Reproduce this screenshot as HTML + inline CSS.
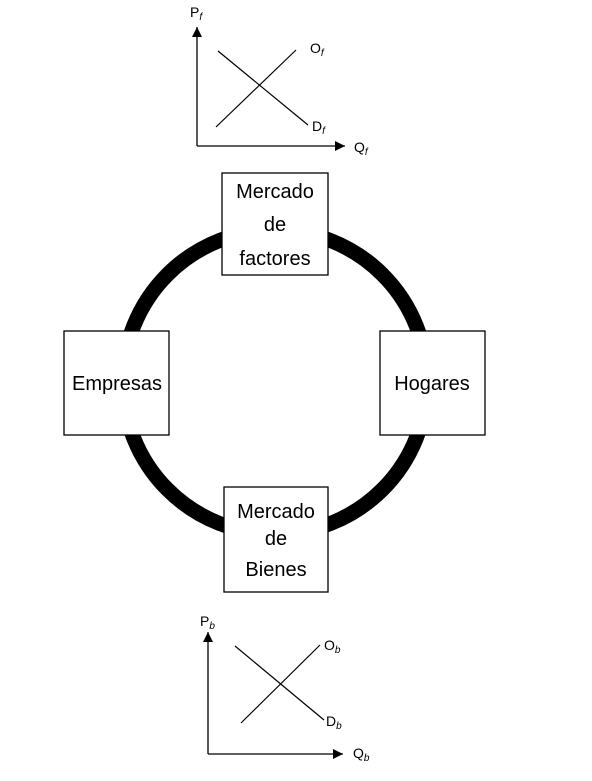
<!DOCTYPE html>
<html><head><meta charset="utf-8"><style>
body{margin:0;background:#fff;width:592px;height:781px;overflow:hidden}
svg{display:block}
text{font-family:"Liberation Sans",sans-serif;fill:#000}
</style></head><body>
<svg width="592" height="781" viewBox="0 0 592 781">
<defs><marker id="a" markerUnits="userSpaceOnUse" markerWidth="10" markerHeight="10" refX="10" refY="5" orient="auto"><path d="M0,0 L10,5 L0,10 z" fill="#000"/></marker></defs>
<!-- top chart -->
<line x1="197" y1="146" x2="197" y2="27" stroke="#000" stroke-width="1.3" marker-end="url(#a)"/>
<line x1="197" y1="146" x2="345" y2="146" stroke="#000" stroke-width="1.3" marker-end="url(#a)"/>
<line x1="216" y1="127" x2="296" y2="50" stroke="#000" stroke-width="1.2"/>
<line x1="218" y1="51" x2="308" y2="125" stroke="#000" stroke-width="1.2"/>
<text x="190" y="17" font-size="14">P<tspan font-size="10" font-style="italic" dy="3">f</tspan></text>
<text x="310" y="53" font-size="14">O<tspan font-size="10" font-style="italic" dy="3">f</tspan></text>
<text x="312" y="131" font-size="14">D<tspan font-size="10" font-style="italic" dy="3">f</tspan></text>
<text x="354" y="152" font-size="14">Q<tspan font-size="10" font-style="italic" dy="3">f</tspan></text>
<!-- circle -->
<circle cx="275" cy="382" r="152" fill="none" stroke="#000" stroke-width="15"/>
<g fill="#fff" stroke="#000" stroke-width="1.3">
<rect x="222" y="173" width="106" height="102"/>
<rect x="64" y="331" width="105" height="104"/>
<rect x="380" y="331" width="105" height="104"/>
<rect x="224" y="487" width="104" height="105"/>
</g>
<g font-size="20" text-anchor="middle">
<text x="275" y="198">Mercado</text>
<text x="275" y="231">de</text>
<text x="275" y="265">factores</text>
<text x="117" y="390">Empresas</text>
<text x="432" y="390">Hogares</text>
<text x="276" y="518">Mercado</text>
<text x="276" y="545">de</text>
<text x="276" y="576">Bienes</text>
</g>
<!-- bottom chart -->
<line x1="208" y1="754" x2="208" y2="632" stroke="#000" stroke-width="1.3" marker-end="url(#a)"/>
<line x1="208" y1="754" x2="343" y2="754" stroke="#000" stroke-width="1.3" marker-end="url(#a)"/>
<line x1="241" y1="723" x2="320" y2="645" stroke="#000" stroke-width="1.2"/>
<line x1="235" y1="646" x2="324" y2="720" stroke="#000" stroke-width="1.2"/>
<text x="200" y="626" font-size="14">P<tspan font-size="10" font-style="italic" dy="3">b</tspan></text>
<text x="324" y="650" font-size="14">O<tspan font-size="10" font-style="italic" dy="3">b</tspan></text>
<text x="326" y="726" font-size="14">D<tspan font-size="10" font-style="italic" dy="3">b</tspan></text>
<text x="353" y="758" font-size="14">Q<tspan font-size="10" font-style="italic" dy="3">b</tspan></text>
</svg>
</body></html>
